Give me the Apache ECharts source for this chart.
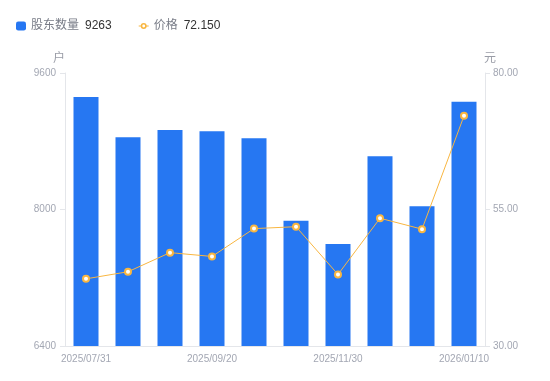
<!DOCTYPE html>
<html><head><meta charset="utf-8">
<script src="https://cdn.jsdelivr.net/npm/echarts@6/dist/echarts.min.js"></script>
<style>html,body{margin:0;padding:0;background:#fff}#c{width:550px;height:381px}</style>
</head><body><div id="c"></div>
<script>
var categories = ['2025/07/31','2025/08/20','2025/08/31','2025/09/20','2025/09/30','2025/10/31','2025/11/30','2025/12/10','2025/12/31','2026/01/10'];
var holders = [9319, 8846, 8932, 8917, 8835, 7869, 7596, 8623, 8037, 9263];
var prices = [42.3, 43.6, 47.1, 46.4, 51.5, 51.85, 43.1, 53.4, 51.4, 72.15];
var leftTicks = [6400, 9600, 1600];
var rightTicks = [30, 80, 25];

var FONT = 'Liberation Sans, Arial, Noto Sans CJK SC, sans-serif';
var labelColor = '#a3a7b3';
var lineColor = '#e4e6ea';
var lineIcon = 'path://M0,3.4H2.3V4.6H0Z M5,1A3,3 0 1,1 5,7A3,3 0 1,1 5,1Z M5,2.6A1.4,1.4 0 1,0 5,5.4A1.4,1.4 0 1,0 5,2.6Z M7.7,3.4H10V4.6H7.7Z';
var chart = echarts.init(document.getElementById('c'));
chart.setOption({
  animation: false,
  textStyle: {fontFamily: FONT},
  legend: {
    left: 11, top: 15, itemWidth: 10, itemHeight: 9, itemGap: 27,
    textStyle: {fontFamily: FONT, rich: {a: {color: '#787c87', fontSize: 12, fontFamily: FONT}, b: {color: '#333', fontSize: 12, fontFamily: FONT, padding: [0,0,0,6]}}},
    formatter: function (name) {
      if (name === '股东数量') return '{a|' + name + '}{b|' + holders[holders.length - 1] + '}';
      return '{a|' + name + '}{b|' + prices[prices.length - 1].toFixed(3) + '}';
    },
    data: [{name: '股东数量', icon: 'roundRect'}, {name: '价格', icon: lineIcon}]
  },
  grid: {left: 65, right: 65, top: 73, bottom: 35},
  xAxis: {
    type: 'category', data: categories,
    axisLine: {lineStyle: {color: lineColor}},
    axisTick: {show: false},
    axisLabel: {color: labelColor, fontSize: 10, interval: 2, margin: 8, fontFamily: FONT}
  },
  yAxis: [{
    type: 'value', min: leftTicks[0], max: leftTicks[1], interval: leftTicks[2],
    name: '户', nameGap: 8,
    nameTextStyle: {color: '#999ca6', fontSize: 12, padding: [0, 12, 0, 0], fontFamily: FONT},
    axisLine: {show: true, lineStyle: {color: lineColor}},
    axisTick: {show: true, length: 5, lineStyle: {color: lineColor}},
    splitLine: {show: false},
    axisLabel: {color: labelColor, fontSize: 10, margin: 9, fontFamily: FONT, formatter: function (v) { return String(v); }}
  }, {
    type: 'value', min: rightTicks[0], max: rightTicks[1], interval: rightTicks[2],
    name: '元', nameGap: 8,
    nameTextStyle: {color: '#999ca6', fontSize: 12, padding: [0, 0, 0, 10], fontFamily: FONT},
    axisLine: {show: true, lineStyle: {color: lineColor}},
    axisTick: {show: true, length: 5, lineStyle: {color: lineColor}},
    splitLine: {show: false},
    axisLabel: {color: labelColor, fontSize: 10, margin: 8, fontFamily: FONT, formatter: function (v) { return v.toFixed(2); }}
  }],
  series: [{
    name: '股东数量', type: 'bar', data: holders, barWidth: 25,
    itemStyle: {color: '#2677f2'}
  }, {
    name: '价格', type: 'line', yAxisIndex: 1, data: prices,
    symbol: 'emptyCircle', symbolSize: 6,
    lineStyle: {color: '#f8b641', width: 1},
    itemStyle: {color: '#f8b641', borderWidth: 2}
  }]
});
</script></body></html>
